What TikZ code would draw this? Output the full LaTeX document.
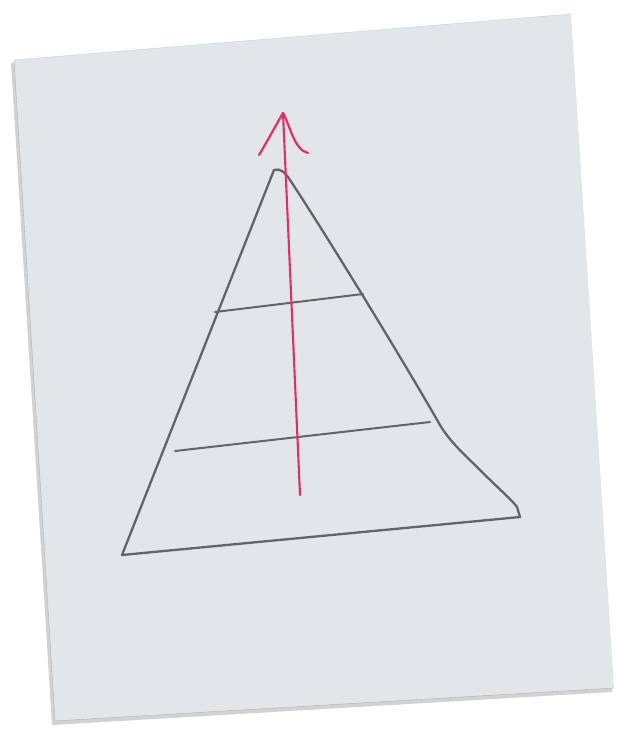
\documentclass[tikz,border=0pt]{standalone}
\usetikzlibrary{calc}

\definecolor{paper}{RGB}{226,230,233}
\definecolor{pencil}{RGB}{100,100,104}
\definecolor{redpen}{RGB}{222,48,100}

\begin{document}
\begin{tikzpicture}[x=1pt, y=-1pt, line cap=round, line join=round]
    \useasboundingbox[fill=white] (0,0) rectangle (620,736);

    % sheet of paper (tilted), with a soft shadow
    \fill[gray!35] (11,63) -- (569,17) -- (612,692) -- (52,725) -- cycle;
    \fill[paper] (14,60) -- (571,14) -- (614,688) -- (55,721) -- cycle;
    \draw[gray!60, thin] (14,60) -- (55,721) -- (614,688);
    \draw[cyan!25!paper, thin] (14,60) -- (571,14);

    % triangle corners
    \coordinate (apex) at (274,170);
    \coordinate (bl) at (122,555);
    \coordinate (br) at (520,517);

    % triangle
    \draw[pencil, line width=2.3pt]
        (bl) -- (apex) .. controls (280,168) and (285,172) .. (290,180)
        .. controls (320,225) and (400,355) .. (440,425)
        .. controls (450,442) and (465,455) .. (480,470)
        .. controls (500,490) and (512,500) .. (517,507)
        -- (br) -- (bl) -- cycle;

    % cross lines
    \draw[pencil, line width=2pt] (215,312) -- (363,294);
    \draw[pencil, line width=2pt] (175,451) -- (430,422);

    % red arrow
    \draw[redpen, line width=2.1pt] (300,495) -- (283,113);
    \draw[redpen, line width=2.2pt]
        (259,155) .. controls (268,140) and (276,125) .. (283,113)
        .. controls (290,125) and (294,150) .. (308,153);
\end{tikzpicture}
\end{document}
